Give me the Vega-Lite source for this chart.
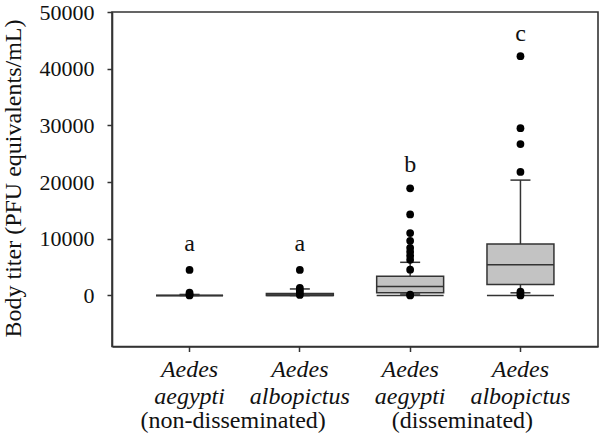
{
  "$schema": "https://vega.github.io/schema/vega-lite/v6.json",
  "width": 486,
  "height": 334.5,
  "autosize": {"type": "none"},
  "padding": {"left": 112, "top": 12, "right": 2, "bottom": 89.5},
  "background": "white",
  "config": {
    "view": {"stroke": "#333333", "strokeWidth": 1.6},
    "font": "Liberation Serif",
    "axis": {
      "domainColor": "#333333", "tickColor": "#333333", "domainWidth": 1.6, "tickWidth": 1.5,
      "grid": false, "labelColor": "#111111", "titleColor": "#111111",
      "labelFont": "Liberation Serif", "titleFont": "Liberation Serif", "titleFontWeight": "normal",
      "tickSize": 5
    }
  },
  "datasets": {
    "boxes": [
      {"group": "Aedes aegypti (non-disseminated)", "q1": 0, "q3": 0, "med": 0, "wlo": 0, "whi": 180, "zero": 0},
      {"group": "Aedes albopictus (non-disseminated)", "q1": 0, "q3": 350, "med": 100, "wlo": 0, "whi": 1150, "zero": 0},
      {"group": "Aedes aegypti (disseminated)", "q1": 470, "q3": 3400, "med": 1600, "wlo": 250, "whi": 5850, "zero": 0},
      {"group": "Aedes albopictus (disseminated)", "q1": 1930, "q3": 9070, "med": 5400, "wlo": 470, "whi": 20350, "zero": 0}
    ],
    "outliers": [
      {"group": "Aedes aegypti (non-disseminated)", "value": 4500},
      {"group": "Aedes aegypti (non-disseminated)", "value": 500},
      {"group": "Aedes aegypti (non-disseminated)", "value": 200},
      {"group": "Aedes aegypti (non-disseminated)", "value": 0},
      {"group": "Aedes albopictus (non-disseminated)", "value": 4500},
      {"group": "Aedes albopictus (non-disseminated)", "value": 1350},
      {"group": "Aedes albopictus (non-disseminated)", "value": 900},
      {"group": "Aedes albopictus (non-disseminated)", "value": 500},
      {"group": "Aedes albopictus (non-disseminated)", "value": 100},
      {"group": "Aedes aegypti (disseminated)", "value": 18900},
      {"group": "Aedes aegypti (disseminated)", "value": 14300},
      {"group": "Aedes aegypti (disseminated)", "value": 11000},
      {"group": "Aedes aegypti (disseminated)", "value": 9650},
      {"group": "Aedes aegypti (disseminated)", "value": 8400},
      {"group": "Aedes aegypti (disseminated)", "value": 7700},
      {"group": "Aedes aegypti (disseminated)", "value": 7000},
      {"group": "Aedes aegypti (disseminated)", "value": 6300},
      {"group": "Aedes aegypti (disseminated)", "value": 4550},
      {"group": "Aedes aegypti (disseminated)", "value": 150},
      {"group": "Aedes aegypti (disseminated)", "value": 0},
      {"group": "Aedes albopictus (disseminated)", "value": 42200},
      {"group": "Aedes albopictus (disseminated)", "value": 29500},
      {"group": "Aedes albopictus (disseminated)", "value": 26700},
      {"group": "Aedes albopictus (disseminated)", "value": 21800},
      {"group": "Aedes albopictus (disseminated)", "value": 700},
      {"group": "Aedes albopictus (disseminated)", "value": 300},
      {"group": "Aedes albopictus (disseminated)", "value": 0}
    ],
    "letters": [
      {"group": "Aedes aegypti (non-disseminated)", "pos": 7900, "letter": "a"},
      {"group": "Aedes albopictus (non-disseminated)", "pos": 7900, "letter": "a"},
      {"group": "Aedes aegypti (disseminated)", "pos": 21800, "letter": "b"},
      {"group": "Aedes albopictus (disseminated)", "pos": 44800, "letter": "c"}
    ]
  },
  "encoding": {
    "x": {
      "field": "group", "type": "nominal",
      "sort": ["Aedes aegypti (non-disseminated)", "Aedes albopictus (non-disseminated)", "Aedes aegypti (disseminated)", "Aedes albopictus (disseminated)"],
      "scale": {"paddingInner": 0, "paddingOuter": 0.203},
      "axis": {
        "labelExpr": "['Aedes', split(datum.label, ' ')[1]]",
        "labelFont": "Liberation Serif", "titleFont": "Liberation Serif",
        "labelFontStyle": "italic", "labelFontSize": 24, "labelLineHeight": 26.5,
        "labelPadding": 6, "labelBaseline": "top", "labelAngle": 0,
        "title": "(non-disseminated)\u00a0\u00a0\u00a0\u00a0\u00a0\u00a0\u00a0\u00a0\u00a0\u00a0\u00a0(disseminated)",
        "titleFontSize": 24, "titleFontWeight": "normal", "titleAlign": "left", "titleAnchor": "start", "titleX": 28, "titleY": 62, "titleBaseline": "top"
      }
    }
  },
  "layer": [
    {
      "data": {"name": "boxes"},
      "mark": {"type": "rule", "color": "#333333", "strokeWidth": 1.5},
      "encoding": {
        "y": {"field": "wlo", "type": "quantitative", "title": "Body titer (PFU equivalents/mL)",
          "scale": {"domain": [-9000, 50000], "nice": false, "zero": false},
          "axis": {"values": [0, 10000, 20000, 30000, 40000, 50000], "format": "d", "labelFont": "Liberation Serif", "titleFont": "Liberation Serif", "labelFontSize": 22, "labelPadding": 13,
            "titleFontSize": 24, "titleFontWeight": "normal", "titleAngle": -90, "titleX": -99, "titleY": 166, "titleAlign": "center", "titleBaseline": "middle"}},
        "y2": {"field": "whi"}
      }
    },
    {
      "data": {"name": "boxes"},
      "mark": {"type": "bar", "width": {"band": 0.607}, "fill": "#c3c3c3", "stroke": "#333333", "strokeWidth": 1.5},
      "encoding": {
        "y": {"field": "q1", "type": "quantitative", "title": "Body titer (PFU equivalents/mL)", "scale": {"domain": [-9000, 50000], "nice": false, "zero": false}},
        "y2": {"field": "q3"}
      }
    },
    {
      "data": {"name": "boxes"},
      "mark": {"type": "tick", "size": 67, "thickness": 1.5, "color": "#333333", "opacity": 1},
      "encoding": {
        "y": {"field": "med", "type": "quantitative", "title": "Body titer (PFU equivalents/mL)", "scale": {"domain": [-9000, 50000], "nice": false, "zero": false}}
      }
    },
    {
      "data": {"name": "boxes"},
      "mark": {"type": "tick", "size": 67, "thickness": 1.5, "color": "#333333", "opacity": 1},
      "encoding": {
        "y": {"field": "zero", "type": "quantitative", "title": "Body titer (PFU equivalents/mL)", "scale": {"domain": [-9000, 50000], "nice": false, "zero": false}}
      }
    },
    {
      "data": {"name": "boxes"},
      "mark": {"type": "tick", "size": 20, "thickness": 1.5, "color": "#333333", "opacity": 1},
      "encoding": {
        "y": {"field": "wlo", "type": "quantitative", "title": "Body titer (PFU equivalents/mL)", "scale": {"domain": [-9000, 50000], "nice": false, "zero": false}}
      }
    },
    {
      "data": {"name": "boxes"},
      "mark": {"type": "tick", "size": 20, "thickness": 1.5, "color": "#333333", "opacity": 1},
      "encoding": {
        "y": {"field": "whi", "type": "quantitative", "title": "Body titer (PFU equivalents/mL)", "scale": {"domain": [-9000, 50000], "nice": false, "zero": false}}
      }
    },
    {
      "data": {"name": "outliers"},
      "mark": {"type": "point", "shape": "circle", "filled": true, "size": 60, "color": "#000000", "opacity": 1},
      "encoding": {
        "y": {"field": "value", "type": "quantitative", "title": "Body titer (PFU equivalents/mL)", "scale": {"domain": [-9000, 50000], "nice": false, "zero": false}}
      }
    },
    {
      "data": {"name": "letters"},
      "mark": {"type": "text", "fontSize": 24, "baseline": "alphabetic", "align": "center", "color": "#111111", "font": "Liberation Serif"},
      "encoding": {
        "y": {"field": "pos", "type": "quantitative", "title": "Body titer (PFU equivalents/mL)", "scale": {"domain": [-9000, 50000], "nice": false, "zero": false}},
        "text": {"field": "letter"}
      }
    }
  ]
}
